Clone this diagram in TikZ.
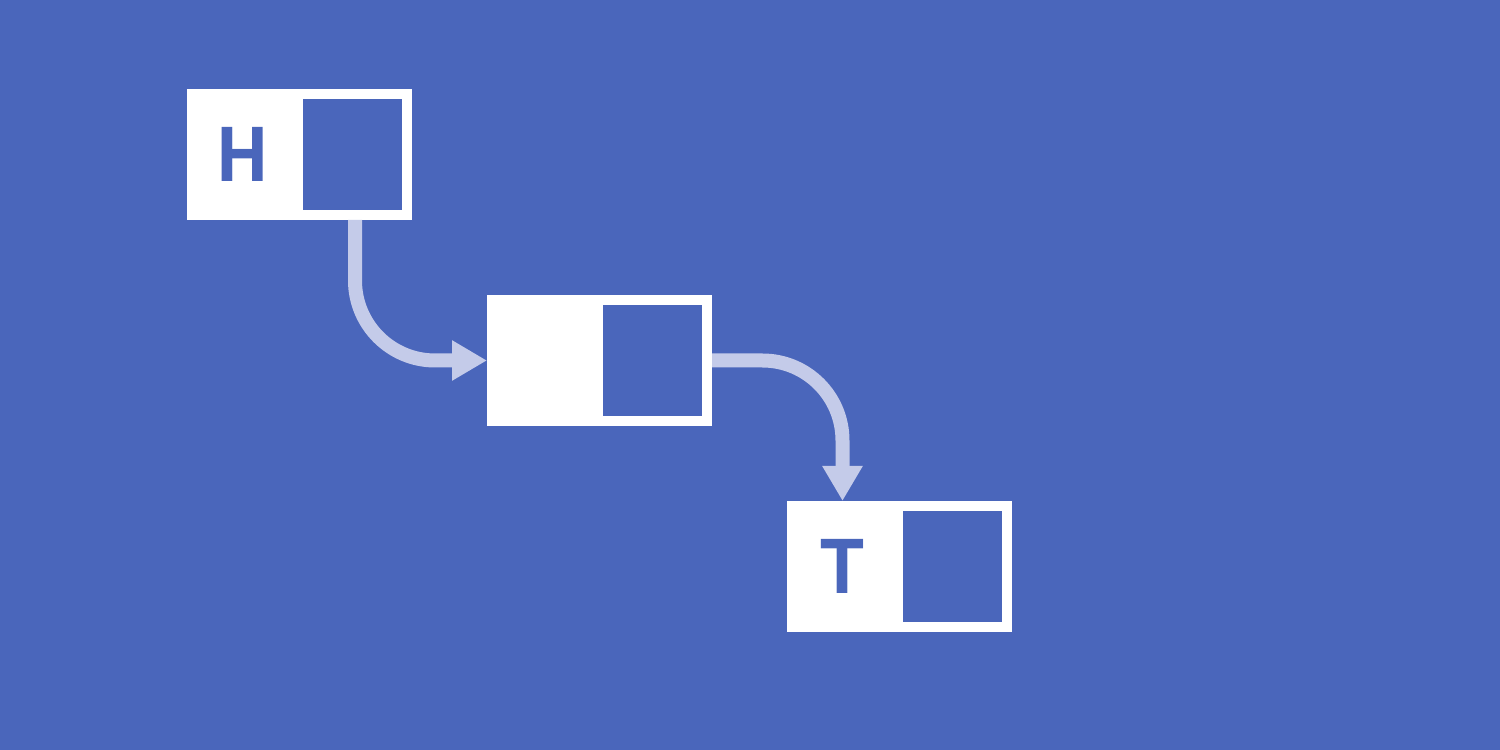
\documentclass[tikz,border=0pt]{standalone}
\usepackage{fontspec}
\setsansfont{PT Sans}
\usepackage{tikz}
\usetikzlibrary{shapes.multipart,arrows.meta,positioning}
\definecolor{mybg}{RGB}{74,102,187}
\definecolor{myarrow}{RGB}{196,203,233}
\tikzstyle{listcell}=[rectangle split,rectangle split horizontal,rectangle split parts=2,draw=white,line width=1mm,rectangle split part fill={white,mybg},inner sep=0pt,minimum height=12.1mm,text=mybg,font=\sffamily\bfseries\fontsize{22}{22}\selectfont]
\tikzstyle{link}=[myarrow,line width=1.4mm,rounded corners=8mm,-{Triangle[length=3.5mm,width=3.8mm]}]
\begin{document}
\begin{tikzpicture}
\useasboundingbox (0,0) rectangle (15,7.5);
\fill [mybg] (0,0) rectangle (15,7.5);
\node [listcell] (h) at (2.995,5.955) {\makebox[10.1mm]{H}\nodepart{two}\makebox[10.4mm]{}};
\node [listcell, below right=7.5mm and 7.5mm of h] (n) {\makebox[10.1mm]{}\nodepart{two}\makebox[10.4mm]{}};
\node [listcell, below right=7.5mm and 7.5mm of n] (t) {\makebox[10.1mm]{T}\nodepart{two}\makebox[10.4mm]{}};
\draw [link] (h.two south) |- (n.west);
\draw [link] (n.east) -| (t.one north);
\end{tikzpicture}
\end{document}
